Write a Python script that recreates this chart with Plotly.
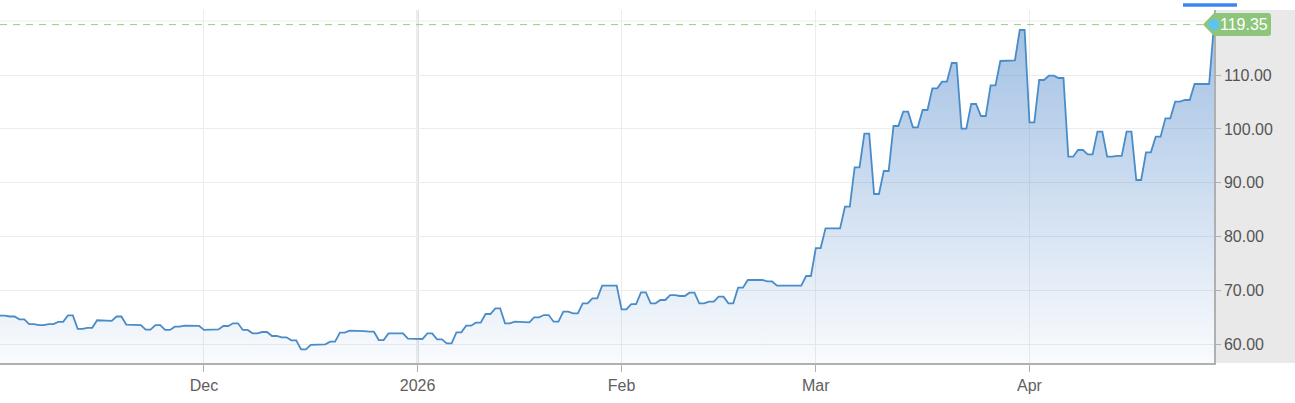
import pandas as pd
import plotly.graph_objects as go

# ---------------- data ----------------
holidays = ["2025-12-25", "2026-01-01", "2026-04-03"]
dates = [d.strftime("%Y-%m-%d") for d in pd.bdate_range("2025-10-31", "2026-04-29")
         if d.strftime("%Y-%m-%d") not in holidays]

prices = [
    65.35, 65.20, 64.67, 63.80, 63.60, 63.80, 64.20, 65.40, 62.90, 63.10,
    64.50, 64.40, 65.20, 63.70, 63.60, 62.75, 63.60, 62.70, 63.30, 63.50,
    63.45,
    62.70, 62.80, 63.43, 63.93, 62.70, 62.07, 62.32, 61.58, 61.33, 60.77,
    59.10, 59.93, 60.03, 60.53, 62.20, 62.57, 62.50, 62.38, 60.83, 62.07,
    62.07, 61.08,
    61.02, 62.07, 60.96, 60.22, 62.26, 63.49, 64.05, 65.66, 66.71, 63.93,
    64.24, 64.12, 65.04, 65.47, 64.24, 66.09, 65.78, 67.64, 68.57, 70.92,
    70.92,
    66.52, 67.51, 69.68, 67.64, 68.26, 69.18, 69.00, 69.62, 67.64, 67.95,
    68.87, 67.64, 70.54, 71.97, 71.97, 71.70, 70.91, 71.00, 70.91, 72.71,
    77.90, 81.55, 81.55, 85.57, 92.87, 99.12, 87.92, 92.19, 100.54, 103.20,
    100.29, 103.51, 107.53, 108.76, 112.23, 100.04, 104.62, 102.39, 108.08, 112.60,
    112.70, 118.35,
    101.22, 109.07, 109.88, 109.44, 94.85, 96.09, 95.28, 99.49, 94.85, 95.00,
    99.49, 90.52, 95.65, 98.56, 101.96, 105.05, 105.36, 108.33, 108.33, 119.35,
]

tick_dates = ["2025-12-01", "2026-01-02", "2026-02-02", "2026-03-02", "2026-04-01"]
tick_labels = ["Dec", "2026", "Feb", "Mar", "Apr"]
year_tick_date = "2026-01-02"
y_ticks = [60, 70, 80, 90, 100, 110]
top_grid = 120

assert len(dates) == len(prices), (len(dates), len(prices))

# ---------------- build ----------------
pos = {d: i for i, d in enumerate(dates)}
xs, ys = [], []
for i, p in enumerate(prices):
    xs.append(i)
    ys.append(p)
    if i < len(prices) - 1:
        xs.append(i + 0.5)
        ys.append(p)

last = prices[-1]
y_lo, y_hi = 56.57, 122.06
W, H = 1295, 403
ML, MR, MT, MB = 0, 81, 10, 40
plot_w = W - ML - MR

FONT = "Arial, Liberation Sans, sans-serif"
LINE = "#4a8cc8"
AXIS = "#b0b0b0"
GRID = "#ececec"

fig = go.Figure()
fig.add_trace(go.Scatter(
    x=xs, y=ys, mode="lines",
    line=dict(color=LINE, width=1.8),
    fill="tozeroy",
    fillgradient=dict(type="vertical", start=y_lo, stop=y_hi,
                      colorscale=[[0, "rgba(70,130,200,0.03)"],
                                  [1, "rgba(70,130,200,0.52)"]]),
    hoverinfo="skip", showlegend=False,
))

shapes = [
    # grey panel behind right axis
    dict(type="rect", xref="paper", yref="paper", x0=1, x1=1 + MR / plot_w, y0=0, y1=1,
         fillcolor="#e9e9e9", line=dict(width=0), layer="below"),
    # darker year gridline
    dict(type="line", xref="x", yref="paper", x0=pos[year_tick_date], x1=pos[year_tick_date],
         y0=0, y1=1, line=dict(color="#d0d0d0", width=2), layer="below"),
    # top gridline
    dict(type="line", xref="paper", yref="y", x0=0, x1=1, y0=top_grid, y1=top_grid,
         line=dict(color=GRID, width=1), layer="below"),
    # last-price dashed line
    dict(type="line", xref="paper", yref="y", x0=0, x1=1, y0=last, y1=last,
         line=dict(color="#93d07f", width=1, dash="7px,6px"), layer="above"),
    # price tag
    dict(type="path", xref="paper", yref="y", xsizemode="pixel", ysizemode="pixel",
         xanchor=1, yanchor=last,
         path="M -11,0 L 0,11.5 L 54,11.5 Q 57,11.5 57,8.5 L 57,-8.5 Q 57,-11.5 54,-11.5 L 0,-11.5 Z",
         fillcolor="#8dc57a", line=dict(width=0), layer="above"),
    # last point dot
    dict(type="circle", xref="paper", yref="y", xsizemode="pixel", ysizemode="pixel",
         xanchor=1, yanchor=last, x0=-5.5, x1=5.5, y0=-5.5, y1=5.5,
         fillcolor="#5cc3f2", line=dict(width=0), layer="above"),
    # blue tab bar at top
    dict(type="rect", xref="paper", yref="paper",
         x0=1183 / plot_w, x1=1237 / plot_w,
         y0=(H - MB - 6.7) / (H - MT - MB), y1=(H - MB - 3.3) / (H - MT - MB),
         fillcolor="#3b86f4", line=dict(width=0), layer="above"),
]

fig.update_layout(
    width=W, height=H,
    margin=dict(l=ML, r=MR, t=MT, b=MB, pad=0),
    paper_bgcolor="white", plot_bgcolor="white",
    font=dict(family=FONT, size=16, color="#666"),
    showlegend=False,
    shapes=shapes,
    annotations=[dict(
        x=1, xref="paper", y=last, yref="y", xanchor="center", yanchor="middle",
        xshift=30, text=f"{last:.2f}", showarrow=False,
        font=dict(family=FONT, size=16, color="white"),
    )],
    xaxis=dict(
        range=[0, len(prices) - 1],
        tickvals=[pos[d] for d in tick_dates], ticktext=tick_labels,
        showgrid=True, gridcolor=GRID, gridwidth=1,
        ticks="outside", ticklen=7, tickcolor=AXIS, tickwidth=1,
        showline=True, linecolor=AXIS, linewidth=1.5,
        zeroline=False, fixedrange=True,
        tickfont=dict(family=FONT, size=16, color="#606060"),
    ),
    yaxis=dict(
        side="right", range=[y_lo, y_hi],
        tickvals=y_ticks, tickformat=".2f",
        showgrid=True, gridcolor=GRID, gridwidth=1,
        ticks="outside", ticklen=5, tickcolor=AXIS, tickwidth=1,
        showline=True, linecolor=AXIS, linewidth=1.5,
        zeroline=False, fixedrange=True,
        tickfont=dict(family=FONT, size=16, color="#555"),
    ),
)

fig.write_html("out.html", config={"displayModeBar": False},
               post_script="document.body.style.margin='0';")
